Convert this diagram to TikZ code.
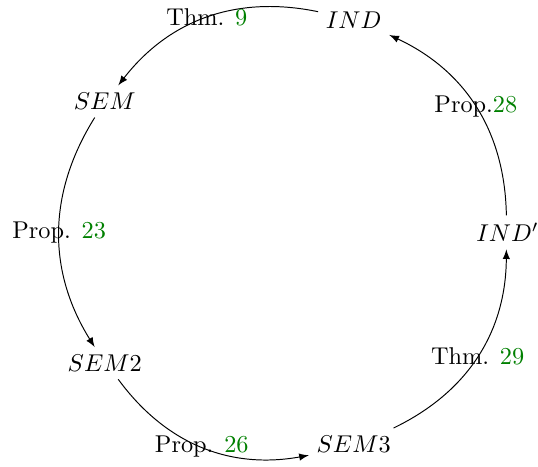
\documentclass[tikz,border=0pt]{standalone}
\usepackage{xcolor}
\definecolor{refgreen}{rgb}{0,0.5,0}
\begin{document}
\begin{tikzpicture}
		\useasboundingbox (-4.12,-3.38) rectangle (3.66,3.36);
		\begin{scope}[every node/.style={inner sep=3pt}]
			\node (IND) at (72:3.22) {$IND$};
			\node (SEM) at (144:3.22) {$SEM$};
			\node (SEM2) at (216:3.22) {$SEM2$};
			\node (SEM3) at (288:3.22) {$SEM3$};
			\node (INDp) at (0:3.22) {$IND'$};
		\end{scope}
		\begin{scope}[>=latex, every edge/.style={draw, bend right=32}]
			\path [->] (IND) edge node {Thm. \textcolor{refgreen}{9}} (SEM);
			\path [->] (SEM) edge node {Prop. \textcolor{refgreen}{23}} (SEM2);
			\path [->] (SEM2) edge node {Prop. \textcolor{refgreen}{26}} (SEM3);
			\path [->] (SEM3) edge node {Thm. \textcolor{refgreen}{29}} (INDp);
			\path [->] (INDp) edge node {Prop.\textcolor{refgreen}{28}} (IND);
		\end{scope}
	\end{tikzpicture}
\end{document}
